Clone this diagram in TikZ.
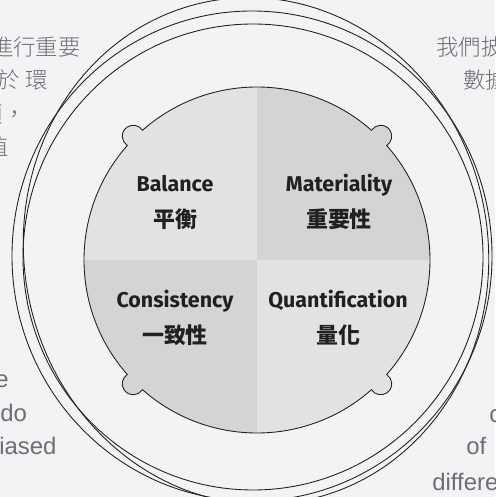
\documentclass[tikz,border=0pt]{standalone}
\usepackage{fontspec}
\setmainfont{Fira Sans}
\newfontfamily\cjk{Noto Sans CJK TC}
\newfontfamily\cjklight{Noto Sans CJK TC}[UprightFont=* Light]
\newfontfamily\bodyfont{Liberation Sans}
\usetikzlibrary{positioning}

\definecolor{bg}{HTML}{F2F3F5}
\definecolor{light}{HTML}{E1E2E4}
\definecolor{dark}{HTML}{D3D4D6}
\definecolor{ink}{HTML}{231F20}
\definecolor{grey}{HTML}{6D6E71}

\tikzset{
	line/.style={draw=ink, line width=0.5pt},
	en/.style={font=\bfseries\fontsize{12.2}{14}\selectfont, text=ink, inner sep=0pt, text height=9pt, text depth=2.5pt},
	zh/.style={font=\cjk\bfseries\fontsize{12.5}{14}\selectfont, text=ink, inner sep=0pt, text height=10.5pt, text depth=1.5pt},
	bgzh/.style={font=\cjklight\fontsize{12.75}{14}\selectfont, text=grey, inner sep=0pt},
	bgen/.style={font=\bodyfont\fontsize{13.6}{16}\selectfont, text=grey, inner sep=0pt},
}

% circle with four knobs
\newcommand\blobpath{(O) ++(-41.44:173)
	arc[start angle=-41.44, end angle=41.44, radius=173]
	arc[start angle=-57.2, end angle=147.2, radius=11]
	arc[start angle=48.56, end angle=131.44, radius=173]
	arc[start angle=32.8, end angle=237.2, radius=11]
	arc[start angle=138.56, end angle=221.44, radius=173]
	arc[start angle=122.8, end angle=327.2, radius=11]
	arc[start angle=228.56, end angle=311.44, radius=173]
	arc[start angle=212.8, end angle=417.2, radius=11] -- cycle}

\begin{document}
\begin{tikzpicture}[x=0.02cm, y=0.02cm]
	\useasboundingbox (0,0) rectangle (495,497);
	\clip (0,0) rectangle (495,497);
	\fill[bg] (0,0) rectangle (495,497);
	\coordinate (O) at (257,237);

	% text round the rings
	\node[bgzh, anchor=east] (tl1) at (81,450) {進行重要};
	\node[bgzh, anchor=east] (tl2) at (48,417) {於 環};
	\node[bgzh, anchor=east] (tl3) at (26,383) {類，};
	\node[bgzh, anchor=east] (tl4) at (9,350) {值};
	\node[bgzh, anchor=west] (tr1) at (436,450) {我們披};
	\node[bgzh, anchor=west] (tr2) at (463,417) {數據};
	\node[bgen, anchor=base east] (bl1) at (9,109) {e};
	\node[bgen, anchor=base west] (bl2) at (0,75) {do};
	\node[bgen, anchor=base west] (bl3) at (-1,42) {iased};
	\node[bgen, anchor=base west] (br1) at (489,74) {c};
	\node[bgen, anchor=base west] (br2) at (466,42) {of};
	\node[bgen, anchor=base west] (br3) at (432,7) {differe};

	% rings
	\draw[line] (252,241) ellipse [x radius=240, y radius=245];
	\draw[line] (253,240) ellipse [x radius=230, y radius=233];
	\draw[line, rotate around={10:(256,246)}] (256,246) ellipse [x radius=232, y radius=254];

	% quadrants
	\begin{scope}
		\clip \blobpath;
		\fill[light] (O) rectangle (0,497);
		\fill[dark] (O) rectangle (495,497);
		\fill[dark] (O) rectangle (0,0);
		\fill[light] (O) rectangle (495,0);
	\end{scope}
	\draw[line] \blobpath;

	\node[en] (bal) at (175,311) {Balance};
	\node[zh, below=7pt of bal] (balzh) {平衡};
	\node[en] (mat) at (339,311) {Materiality};
	\node[zh, below=7pt of mat] (matzh) {重要性};
	\node[en] (con) at (175,195) {Consistency};
	\node[zh, below=7pt of con] (conzh) {一致性};
	\node[en] (qua) at (338,195) {Quantification};
	\node[zh, below=7pt of qua] (quazh) {量化};
\end{tikzpicture}
\end{document}
